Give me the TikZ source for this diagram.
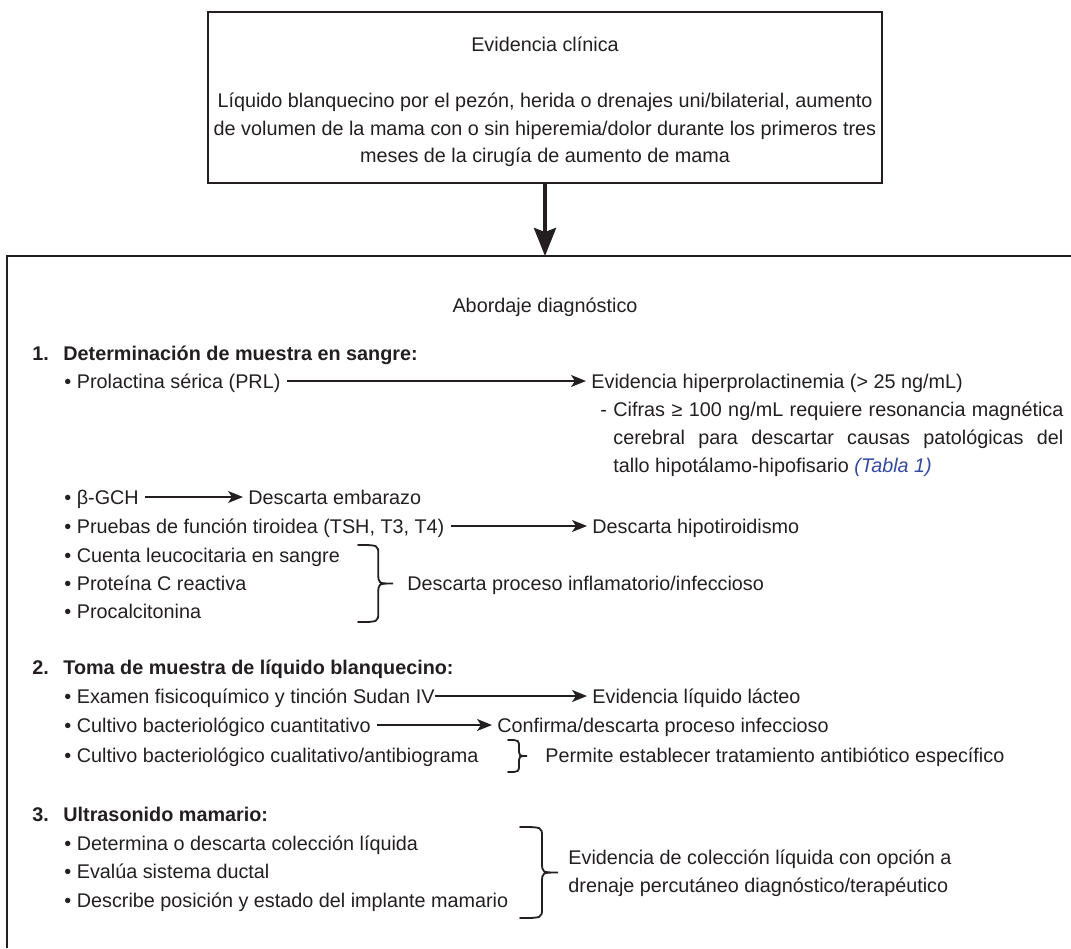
\documentclass[tikz,border=0pt]{standalone}
\usepackage{fontspec}
\setmainfont{Liberation Sans}
\usetikzlibrary{arrows.meta}
\definecolor{ink}{HTML}{231F20}
\definecolor{tabla}{RGB}{52,73,160}
\newcommand\mybrace[4]{%
  \pgfmathsetmacro\Bxs{#1+0.58*#4}%
  \pgfmathsetmacro\Bxt{#1+#4}%
  \pgfmathsetmacro\Bym{(#2+#3)/2}%
  \pgfmathsetmacro\Brr{min(10,(#3-#2)/4)}%
  \draw[bracestyle] (#1,#2) .. controls ({\Bxs},#2) .. ({\Bxs},{#2+\Brr})
    -- ({\Bxs},{\Bym-\Brr}) .. controls ({\Bxs},{\Bym}) .. ({\Bxt},{\Bym})
    .. controls ({\Bxs},{\Bym}) .. ({\Bxs},{\Bym+\Brr})
    -- ({\Bxs},{#3-\Brr}) .. controls ({\Bxs},#3) .. (#1,#3);}
\begin{document}
\begin{tikzpicture}[x=0.5pt,y=-0.5pt,
  every node/.style={text=ink,font=\fontsize{9.9}{14}\selectfont},
  ln/.style={anchor=west,inner xsep=0pt,inner ysep=0pt,text height=7.1pt,text depth=0pt},
  ctr/.style={anchor=center,inner sep=0pt,text height=7.1pt,text depth=0pt},
  hdr/.style={ln,font=\fontsize{9.9}{14}\selectfont\bfseries},
  arr/.style={draw=ink,line width=0.75pt,-{Stealth[length=7.5pt,width=6pt,inset=2pt]},shorten <=3pt,shorten >=2.5pt},
  bigarr/.style={draw=ink,line width=2pt,-{Stealth[length=14pt,width=11pt,inset=2pt]}},
  boxline/.style={draw=ink,line width=0.8pt},
  bracestyle/.style={draw=ink,line width=0.9pt,line cap=round}
]
\useasboundingbox (0,0) rectangle (1071,948);
% top box
\node[boxline,minimum width=337pt,minimum height=85.5pt,inner sep=0pt] (top) at (545,97.5) {};
\node[ctr] (tit) at (545,44) {Evidencia clínica};
\node[ctr] (d1) at (545,100) {Líquido blanquecino por el pezón, herida o drenajes uni/bilaterial, aumento};
\node[ctr] (d2) at (545,128) {de volumen de la mama con o sin hiperemia/dolor durante los primeros tres};
\node[ctr] (d3) at (545,155) {meses de la cirugía de aumento de mama};
\coordinate (btop) at (545,256);
\draw[bigarr] (top.south) -- (btop);
% bottom frame
\draw[boxline,line width=1pt] (7,948) |- (1071,256);
\node[ctr] (abord) at (545,305) {Abordaje diagnóstico};
% section 1
\node[hdr] (s1) at (32,353) {\makebox[15.5pt][l]{1.}Determinación de muestra en sangre:};
\node[ln] (prl) at (64,381) {• Prolactina sérica (PRL)};
\node[ln] (evhp) at (591,381) {Evidencia hiperprolactinemia (> 25 ng/mL)};
\draw[arr] (prl) -- (evhp);
\node[ln] (dash) at (600,409) {-};
\node[ln] (cif1) at (613,409) {\makebox[225pt][s]{Cifras ≥ 100 ng/mL requiere resonancia magnética}};
\node[ln] (cif2) at (613,437) {\makebox[225pt][s]{cerebral para descartar causas patológicas del}};
\node[ln] (cif3) at (613,465) {tallo hipotálamo-hipofisario \textcolor{tabla}{\itshape (Tabla 1)}};
\node[ln] (bgch) at (64,497) {• β-GCH};
\node[ln] (emb) at (248,497) {Descarta embarazo};
\draw[arr] (bgch) -- (emb);
\node[ln] (tir) at (64,526) {• Pruebas de función tiroidea (TSH, T3, T4)};
\node[ln] (hipo) at (592,526) {Descarta hipotiroidismo};
\draw[arr] (tir) -- (hipo);
\node[ln] (leu) at (64,555) {• Cuenta leucocitaria en sangre};
\node[ln] (pcr) at (64,583) {• Proteína C reactiva};
\node[ln] (pct) at (64,611) {• Procalcitonina};
\mybrace{358}{545}{622}{35}
\node[ln] (infl) at (407,583) {Descarta proceso inflamatorio/infeccioso};
% section 2
\node[hdr] (s2) at (32,667) {\makebox[15.5pt][l]{2.}Toma de muestra de líquido blanquecino:};
\node[ln] (exa) at (64,696) {• Examen fisicoquímico y tinción Sudan IV};
\node[ln] (evl) at (592,696) {Evidencia líquido lácteo};
\draw[arr,shorten <=0pt] (exa) -- (evl);
\node[ln] (cuant) at (64,725) {• Cultivo bacteriológico cuantitativo};
\node[ln] (conf) at (497,725) {Confirma/descarta proceso infeccioso};
\draw[arr] (cuant) -- (conf);
\node[ln] (cual) at (64,755) {• Cultivo bacteriológico cualitativo/antibiograma};
\mybrace{508}{740}{772}{19}
\node[ln] (perm) at (545,755) {Permite establecer tratamiento antibiótico específico};
% section 3
\node[hdr] (s3) at (32,814) {\makebox[15.5pt][l]{3.}Ultrasonido mamario:};
\node[ln] (det) at (64,843) {• Determina o descarta colección líquida};
\node[ln] (eva) at (64,871) {• Evalúa sistema ductal};
\node[ln] (pos) at (64,900) {• Describe posición y estado del implante mamario};
\mybrace{520}{827}{918}{38}
\node[ln] (col1) at (568,857) {Evidencia de colección líquida con opción a};
\node[ln] (col2) at (568,885) {drenaje percutáneo diagnóstico/terapéutico};
\end{tikzpicture}
\end{document}
